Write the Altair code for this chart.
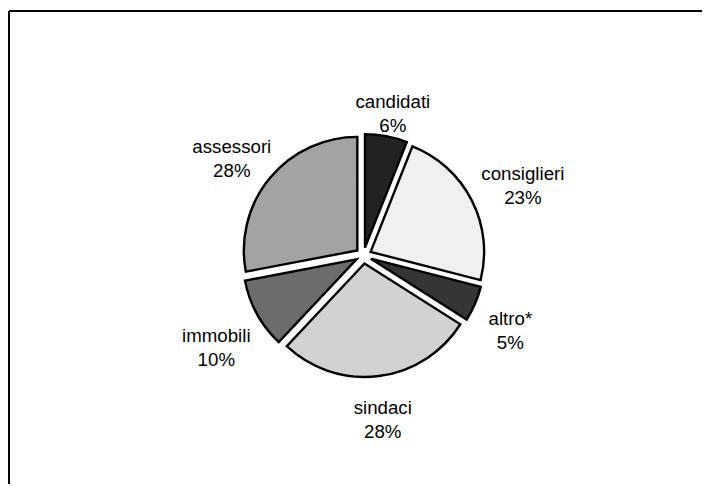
import altair as alt
import pandas as pd

# data
labels = ["candidati", "consiglieri", "altro*", "sindaci", "immobili", "assessori"]
shares = [6, 23, 5, 28, 10, 28]
shades = ["#222222", "#f0f0f0", "#353535", "#d2d2d2", "#6c6c6c", "#a3a3a3"]

df = pd.DataFrame({"label": labels, "share": shares})

W, H = 694, 476
CX, CY = 355.5, 247.5    # pie centre inside the plot area (pixels)
R = 113.5                # pie radius
D = 8                    # explode distance
B = 129                  # label base distance
FS = 18.7

xs = alt.Scale(domain=[-CX, W - CX], nice=False, zero=False)
ys = alt.Scale(domain=[CY - H, CY], nice=False, zero=False)

base = (
    alt.Chart(df)
    .transform_window(idx="row_number()")
    .transform_window(cum="sum(share)", sort=[alt.SortField("idx")], frame=[None, 0])
    .transform_joinaggregate(total="sum(share)")
    .transform_calculate(
        a0="2*PI*(datum.cum - datum.share)/datum.total",
        a1="2*PI*datum.cum/datum.total",
    )
    .transform_calculate(m="(datum.a0 + datum.a1)/2")
    .transform_calculate(
        dx=f"{D}*sin(datum.m)",
        dy=f"{D}*cos(datum.m)",
        lr=f"{B} + abs(sin(datum.m))*{0.22*FS}*length(datum.label) + abs(cos(datum.m))*21",
        txt="datum.label + '\\n' + datum.share + '%'",
    )
    .transform_calculate(
        lx="datum.lr*sin(datum.m)",
        ly="datum.lr*cos(datum.m)",
    )
)

arcs = base.mark_arc(radius=R, stroke="black", strokeWidth=2.4).encode(
    x=alt.X("dx:Q", scale=xs, axis=None),
    y=alt.Y("dy:Q", scale=ys, axis=None),
    theta=alt.Theta("a0:Q", scale=None, stack=False),
    theta2=alt.Theta2("a1:Q"),
    fill=alt.Fill("label:N", scale=alt.Scale(domain=labels, range=shades), legend=None),
)

texts = base.mark_text(
    font="Liberation Sans", fontSize=FS, lineBreak="\n", lineHeight=24,
    align="center", baseline="middle", color="black",
).encode(
    x=alt.X("lx:Q", scale=xs, axis=None),
    y=alt.Y("ly:Q", scale=ys, axis=None),
    text="txt:N",
)

frame_df = pd.DataFrame({"k": [0]})
left_rule = alt.Chart(frame_df).mark_rule(color="black", strokeWidth=2).encode(
    x=alt.value(1), y=alt.value(3), y2=alt.value(H)
)
top_rule = alt.Chart(frame_df).mark_rule(color="black", strokeWidth=2).encode(
    x=alt.value(1), x2=alt.value(W), y=alt.value(3)
)

chart = (
    alt.layer(left_rule, top_rule, arcs, texts)
    .properties(width=W, height=H, autosize=alt.AutoSizeParams(type="none"), padding=0,
                background="white")
    .configure_view(stroke=None)
)

chart.save("out.html", embed_options={"renderer": "svg", "actions": False})
